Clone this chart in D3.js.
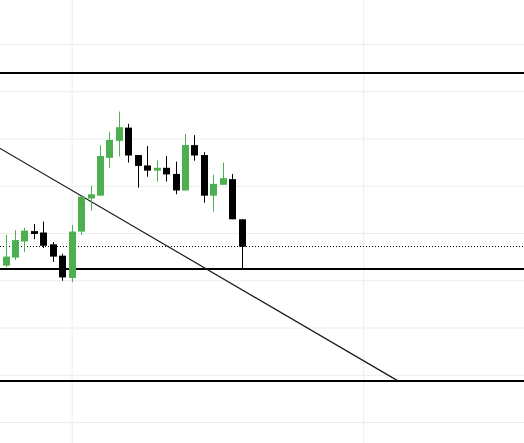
<!DOCTYPE html>
<html>
<head>
<meta charset="utf-8">
<script src="https://cdn.jsdelivr.net/npm/d3@7"></script>
<style>
    html, body { margin: 0; padding: 0; background: #fff; }
    svg { display: block; }
</style>
</head>
<body>
<div id="chart"></div>
<script>

// candles (price units are arbitrary, grid step = 10)
var opens  = [133.1, 134.8, 138.2, 140.4, 140.1, 137.6, 135.2, 130.5, 140.3, 147.3, 147.9, 155.9, 159.5,
              162.3, 156.5, 154.3, 153.2, 153.8, 152.5, 149.0, 158.6, 156.5, 147.9, 150.2, 151.4, 142.9]
var highs  = [139.6, 140.6, 141.1, 141.9, 142.4, 138.1, 135.6, 141.7, 147.8, 150.0, 158.6, 161.4, 165.7,
              163.1, 156.5, 158.4, 155.4, 156.3, 155.1, 161.0, 160.7, 157.1, 152.3, 154.9, 152.5, 142.9]
var lows   = [132.8, 134.3, 136.0, 138.7, 136.8, 133.9, 129.9, 129.6, 139.6, 144.7, 147.8, 153.8, 156.2,
              154.9, 149.6, 151.9, 150.9, 150.9, 148.2, 149.0, 155.3, 146.4, 144.5, 150.2, 142.9, 132.5]
var closes = [135.0, 138.5, 140.5, 139.8, 137.3, 135.0, 130.6, 140.3, 147.7, 148.2, 156.3, 159.7, 162.4,
              156.4, 154.2, 153.2, 153.8, 152.4, 149.0, 158.6, 156.4, 147.9, 150.4, 151.6, 142.9, 137.1]

// horizontal levels drawn on the chart
var levels = [173.9, 132.4, 108.7]

// trend line (candle index, price)
var trendLine = [{i: -1, p: 158.4}, {i: 41.53, p: 108.7}]

var priceTicks = [100, 110, 120, 130, 140, 150, 160, 170, 180]
var timeTicks = [7, 37.85]

var WIDTH = 524,
    HEIGHT = 443

var UP_COLOR = '#4caf50',
    DOWN_COLOR = '#000'

var candles = opens.map(function (o, k) {
    return {i: k, o: o, h: highs[k], l: lows[k], c: closes[k]}
})

var x = d3.scaleLinear()
    .domain([0, candles.length - 1])
    .range([5.5, 5.5 + 9.45 * (candles.length - 1)])

var y = d3.scaleLinear()
    .domain([100, 180])
    .range([422, 44])

var svg = d3.select('#chart')
    .append('svg')
    .attr('width', WIDTH)
    .attr('height', HEIGHT)

// grid
var yGrid = d3.axisLeft(y)
    .tickValues(priceTicks)
    .tickSize(-WIDTH)
    .tickFormat('')

svg.append('g')
    .attr('class', 'ygrid')
    .call(yGrid)
    .call(function (g) {
        g.select('.domain').remove()
        g.selectAll('.tick line').attr('stroke', '#ededed')
    })

var xGrid = d3.axisTop(x)
    .tickValues(timeTicks)
    .tickSize(-HEIGHT)
    .tickFormat('')

svg.append('g')
    .attr('class', 'xgrid')
    .call(xGrid)
    .call(function (g) {
        g.select('.domain').remove()
        g.selectAll('.tick line').attr('stroke', '#ededed')
    })

// levels
svg.append('g')
    .selectAll('line')
    .data(levels)
    .enter()
    .append('line')
    .attr('x1', 0)
    .attr('x2', WIDTH)
    .attr('y1', function (d) { return Math.round(y(d)) })
    .attr('y2', function (d) { return Math.round(y(d)) })
    .attr('stroke', '#000')
    .attr('stroke-width', 2.2)

// last price (dotted)
var last = closes[closes.length - 1]
svg.append('line')
    .attr('x1', 0)
    .attr('x2', WIDTH)
    .attr('y1', Math.round(y(last)) - 0.5)
    .attr('y2', Math.round(y(last)) - 0.5)
    .attr('stroke', '#000')
    .attr('stroke-width', 1)
    .attr('stroke-dasharray', '1,2')
    .attr('shape-rendering', 'crispEdges')

// trend line
svg.append('path')
    .datum(trendLine)
    .attr('d', d3.line()
        .x(function (d) { return x(d.i) })
        .y(function (d) { return y(d.p) }))
    .attr('fill', 'none')
    .attr('stroke', '#1a1a1a')
    .attr('stroke-width', 1.2)

// candles
var candle = svg.append('g')
    .selectAll('g')
    .data(candles)
    .enter()
    .append('g')

candle.append('line')
    .attr('x1', function (d) { return Math.round(x(d.i)) + 0.5 })
    .attr('x2', function (d) { return Math.round(x(d.i)) + 0.5 })
    .attr('y1', function (d) { return y(d.h) })
    .attr('y2', function (d) { return y(d.l) })
    .attr('stroke', function (d) { return d.c >= d.o ? UP_COLOR : DOWN_COLOR })
    .attr('stroke-width', 1)

candle.append('rect')
    .attr('x', function (d) { return Math.round(x(d.i)) - 3 })
    .attr('width', 7)
    .attr('y', function (d) { return y(Math.max(d.o, d.c)) })
    .attr('height', function (d) { return Math.max(1, Math.abs(y(d.o) - y(d.c))) })
    .attr('fill', function (d) { return d.c >= d.o ? UP_COLOR : DOWN_COLOR })

</script>
</body>
</html>
